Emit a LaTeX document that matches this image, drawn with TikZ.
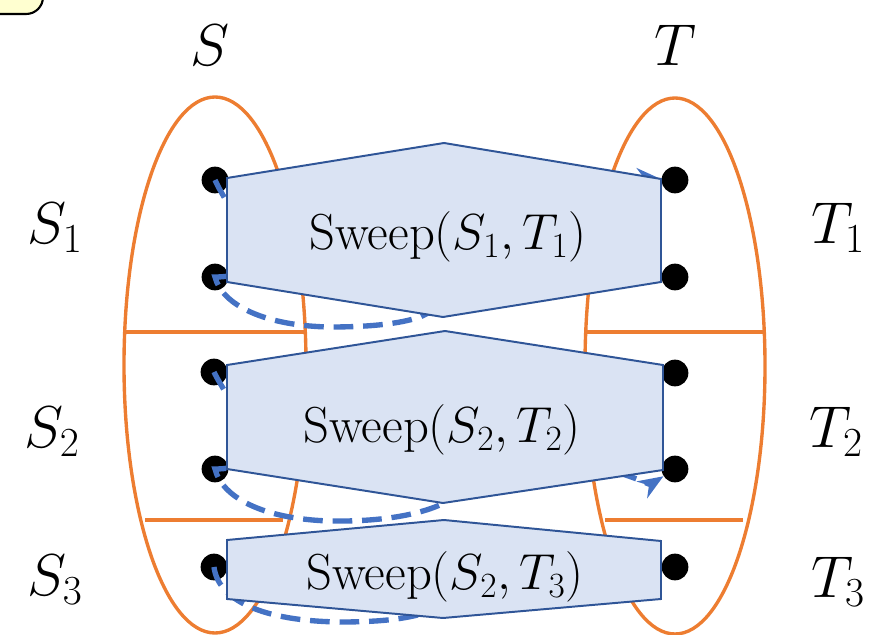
\RequirePackage{fix-cm}
\documentclass[tikz,border=0pt]{standalone}
\usetikzlibrary{arrows.meta}
\definecolor{setorange}{HTML}{ED7D31}
\definecolor{sweepfill}{HTML}{DAE3F3}
\definecolor{sweepedge}{HTML}{2F5597}
\definecolor{sweepblue}{HTML}{4472C4}
\definecolor{notefill}{HTML}{FFFFD0}

\begin{document}
\begin{tikzpicture}[x=0.025cm,y=-0.025cm,
    part/.style={draw=setorange,line width=2.4pt},
    dot/.style={circle,fill=black,inner sep=0pt,minimum size=19pt},
    sweepbox/.style={fill=sweepfill,draw=sweepedge,line width=1.4pt},
    sweeppath/.style={draw=sweepblue,line width=3.8pt,dash pattern=on 14pt off 7pt},
    sweeparrow/.style={sweeppath,-{Stealth[length=18pt,width=14pt]}},
    lbl/.style={font=\fontsize{42}{46}\selectfont},
    txt/.style={font=\fontsize{36}{40}\selectfont}]
\clip (0,0) rectangle (874,635);

% note box in the corner
\draw[fill=notefill,line width=1.5pt,rounded corners=12pt] (-60,-60) rectangle (43,14);

% the two sets and their parts
\draw[part] (215,365) ellipse [x radius=91,y radius=268];
\draw[part] (675,366) ellipse [x radius=90,y radius=268];
\draw[part] (125,332) -- (305,332);
\draw[part] (585,332) -- (764,332);
\draw[part] (145,520) -- (283,520);
\draw[part] (605,520) -- (743,520);

% points
\node[dot] (s11) at (215,180) {};
\node[dot] (s12) at (215,277) {};
\node[dot] (s21) at (214,372) {};
\node[dot] (s22) at (215,469) {};
\node[dot] (s31) at (214,567) {};
\node[dot] (t11) at (675,180) {};
\node[dot] (t12) at (675,277) {};
\node[dot] (t21) at (675,373) {};
\node[dot] (t22) at (675,469) {};
\node[dot] (t31) at (675,567) {};
\coordinate (p3end) at (480,600);

% sweep orders
\draw[sweeparrow] (s11.center) .. controls (228,210) and (285,277) .. (s12.center)
    .. controls (222,305) and (265,326) .. (330,327)
    .. controls (380,327) and (405,322) .. (420,317)
    .. controls (500,280) and (600,176) .. (t11);
\draw[sweeparrow] (s21.center) .. controls (227,400) and (285,469) .. (s22.center)
    .. controls (222,497) and (262,519) .. (330,521)
    .. controls (390,522) and (425,512) .. (442,504)
    .. controls (560,430) and (648,486) .. (t22);
\draw[sweeppath] (s31.center) .. controls (218,600) and (262,621) .. (340,622)
    .. controls (380,622) and (405,619) .. (425,613)
    .. controls (450,605) .. (p3end);

% sweeps
\filldraw[sweepbox] (227,178) -- (444,143) -- (661,179) -- (661,282) -- (443,317) -- (227,282) -- cycle;
\filldraw[sweepbox] (227,365) -- (445,331) -- (663,365) -- (663,470) -- (443,503) -- (227,469) -- cycle;
\filldraw[sweepbox] (227,540) -- (444,520) -- (661,541) -- (661,599) -- (443,618) -- (227,599) -- cycle;
\node[txt] (w1) at (448,237) {Sweep$(S_1,T_1)$};
\node[txt] (w2) at (442,430) {Sweep$(S_2,T_2)$};
\node[txt] (w3) at (445,577) {Sweep$(S_2,T_3)$};

% labels
\node[lbl] (ls) at (210,45) {$S$};
\node[lbl] (lt) at (675,45) {$T$};
\node[lbl] (ls1) at (55,228) {$S_1$};
\node[lbl] (ls2) at (52,432) {$S_2$};
\node[lbl] (ls3) at (55,580) {$S_3$};
\node[lbl] (lt1) at (838,228) {$T_1$};
\node[lbl] (lt2) at (836,432) {$T_2$};
\node[lbl] (lt3) at (838,582) {$T_3$};
\end{tikzpicture}
\end{document}
